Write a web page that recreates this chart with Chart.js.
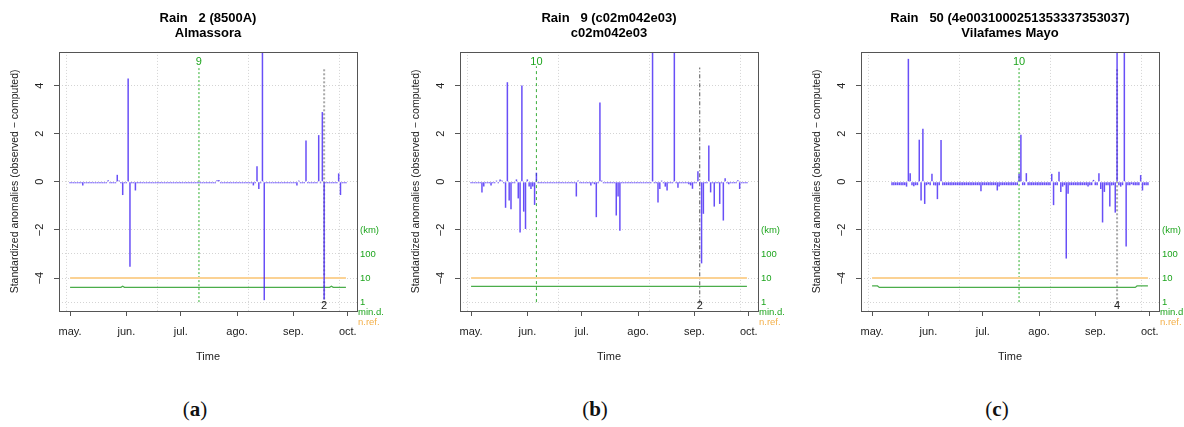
<!DOCTYPE html>
<html>
<head>
<meta charset="utf-8">
<script src="https://cdn.jsdelivr.net/npm/chart.js@4.4.1/dist/chart.umd.min.js"></script>
<style>
  html, body { margin: 0; padding: 0; background: #fff; width: 1184px; height: 427px; overflow: hidden; }
  .panel { position: absolute; top: 0; }
  .cap { position: absolute; top: 397px; width: 60px; text-align: center; font-family: "Liberation Serif", "DejaVu Serif", serif; font-size: 21px; color: #111; }
</style>
</head>
<body>
<div class="panel" style="left:0px"><canvas id="chartA" width="395" height="380"></canvas></div>
<div class="panel" style="left:401px"><canvas id="chartB" width="395" height="380"></canvas></div>
<div class="panel" style="left:802px"><canvas id="chartC" width="395" height="380"></canvas></div>
<div class="cap" style="left:165px">(<b>a</b>)</div>
<div class="cap" style="left:565px">(<b>b</b>)</div>
<div class="cap" style="left:967px">(<b>c</b>)</div>
<script>
// x axis = days since 1 May
const monthDays = [0, 31, 61, 92, 123, 153];
const monthLabels = ["may.", "jun.", "jul.", "ago.", "sep.", "oct."];
const gridDays = [-1.8, 48.3, 98.2, 148.3];

const yTicks = [4, 2, 0, -2, -4];
const yTickLabels = ["4", "2", "0", "\u22122", "\u22124"];
const kmTicks = [-2, -3, -4, -5];
const kmLabels = ["(km)", "100", "10", "1"];

const nrefDays = [0, 152];
const nrefValues = [10, 10];

// (a) Rain 2 (8500A) Almassora
const anomA = [
  -0.06, -0.06, -0.06, -0.06, -0.06, -0.06, -0.06, -0.15, -0.06, -0.06,
  -0.06, -0.06, -0.06, -0.06, -0.06, -0.06, -0.06, -0.06, -0.06, -0.06,
  -0.06, 0.06, -0.06, -0.06, -0.06, -0.06, 0.29, 0.05, -0.06, -0.55,
  -0.06, -0.06, 4.29, -3.53, -0.06, -0.06, -0.36, -0.06, -0.06, -0.06,
  -0.06, -0.06, -0.06, -0.06, -0.06, -0.06, -0.06, -0.06, -0.06, -0.06,
  -0.06, -0.06, -0.06, -0.06, -0.06, -0.06, -0.06, -0.06, -0.06, -0.06,
  -0.06, -0.06, -0.06, -0.06, -0.06, -0.06, -0.06, -0.06, -0.06, -0.06,
  -0.06, -0.06, -0.06, -0.06, -0.06, -0.06, -0.06, -0.06, -0.06, -0.06,
  -0.06, 0.07, 0.08, -0.06, -0.06, -0.06, -0.06, -0.06, -0.06, -0.06,
  -0.06, -0.06, -0.06, -0.06, -0.06, -0.06, -0.06, -0.06, -0.06, -0.06,
  -0.06, -0.15, -0.06, 0.65, -0.30, -0.06, 6.00, -4.92, -0.06, -0.06,
  -0.06, -0.06, -0.06, -0.06, -0.06, -0.06, -0.06, -0.06, -0.06, -0.06,
  -0.06, -0.06, -0.06, -0.06, -0.06, -0.15, 0.05, -0.06, -0.06, -0.06,
  1.72, -0.06, -0.06, -0.06, -0.06, -0.06, -0.06, 1.94, -0.06, 2.90,
  -4.89, -0.06, -0.06, -0.06, -0.06, -0.06, -0.06, -0.06, 0.35, -0.55,
  -0.06, -0.06, -0.06
];
const minDaysA = [0, 28, 29, 30, 143, 144, 145, 152];
const minKmA = [4.1, 4.1, 4.6, 4.1, 4.1, 4.6, 4.1, 4.1];

// (b) Rain 9 (c02m042e03)
const anomB = [
  -0.06, -0.06, -0.06, -0.06, -0.06, -0.06, -0.44, -0.20, -0.06, -0.06,
  -0.06, -0.15, -0.06, -0.06, 0.05, -0.06, 0.10, 0.05, -0.06, -1.08,
  4.14, -0.78, -1.14, -0.06, -0.06, 0.10, -0.69, -2.11, 4.00, -1.24,
  -1.96, 0.10, -0.20, -0.30, -0.20, -0.96, 0.38, -0.06, -0.06, -0.06,
  -0.06, -0.06, -0.06, -0.06, -0.06, -0.06, -0.06, -0.06, -0.06, -0.06,
  -0.06, -0.06, -0.06, -0.06, -0.06, -0.06, -0.06, -0.06, -0.61, 0.05,
  -0.06, -0.06, -0.06, -0.06, -0.06, -0.06, -0.15, -0.06, -0.10, -1.47,
  -0.06, 3.30, 0.05, -0.06, -0.06, -0.06, -0.06, -0.06, -0.06, -0.06,
  -1.40, -0.61, -2.03, -0.06, -0.06, -0.06, -0.06, -0.06, -0.06, -0.06,
  -0.06, -0.06, -0.06, -0.06, -0.06, -0.06, -0.06, -0.06, -0.06, -0.06,
  6.00, -0.06, -0.06, -0.86, -0.30, 0.05, -0.06, -0.20, -0.36, -0.06,
  -0.06, -0.06, 6.00, -0.06, -0.25, -0.06, -0.06, -0.06, -0.06, -0.06,
  -0.10, -0.15, -0.29, -0.06, -0.06, 0.44, -0.06, -3.39, -1.33, -0.06,
  -0.06, 1.51, -0.44, -0.06, -1.03, -0.06, -0.06, -0.92, -0.06, -1.61,
  0.15, -0.06, -0.10, -0.06, -0.06, -0.06, -0.06, 0.07, -0.30, -0.06,
  -0.06, -0.06, -0.06
];
const minDaysB = [0, 152];
const minKmB = [4.5, 4.5];

// (c) Rain 50 Vilafames Mayo
const anomC = [
  null, null, null, null, null, null, null, null, null, null,
  null, -0.14, -0.14, -0.14, -0.14, -0.14, -0.14, -0.14, -0.14, -0.20,
  5.11, 0.36, -0.14, -0.18, -0.14, -0.14, 1.75, -0.78, 2.21, -0.92,
  -0.14, -0.10, -0.14, 0.33, -0.14, -0.15, -0.72, -0.14, 1.74, -0.14,
  -0.14, -0.14, -0.14, -0.14, -0.14, -0.14, -0.14, -0.14, -0.14, -0.14,
  -0.14, -0.14, -0.14, -0.14, -0.14, -0.14, -0.14, -0.14, -0.14, -0.14,
  -0.39, -0.14, -0.14, -0.14, -0.14, -0.14, -0.14, -0.14, -0.14, -0.36,
  -0.20, -0.14, -0.14, -0.14, -0.14, -0.14, -0.14, -0.14, -0.14, -0.14,
  -0.14, 0.33, 1.96, -0.14, -0.14, 0.36, -0.14, -0.14, -0.14, -0.14,
  -0.14, -0.14, -0.14, -0.14, -0.14, -0.14, -0.14, -0.14, -0.14, 0.33,
  -0.97, -0.14, -0.14, 0.42, -0.42, -0.20, -0.14, -3.19, -0.50, -0.14,
  -0.14, -0.14, -0.14, -0.14, -0.14, -0.14, -0.14, -0.14, -0.14, -0.20,
  -0.14, -0.14, 0.08, -0.14, -0.14, 0.36, -0.30, -1.69, -0.42, -0.14,
  -0.14, -1.03, -0.15, -0.14, -1.28, 6.00, -0.14, -0.20, -0.14, 6.00,
  -2.69, -0.14, -0.14, -0.10, -0.14, -0.14, -0.14, -0.14, 0.28, -0.36,
  -0.14, -0.14, -0.14
];
const minDaysC = [0, 3, 4, 145, 146, 152];
const minKmC = [4.7, 4.7, 4.1, 4.1, 4.7, 4.7];

const FONT = '"Liberation Sans", Arial, Helvetica, sans-serif';
const GREEN_TEXT = "#1ea51e";
const ORANGE_TEXT = "#f4b04a";

Chart.defaults.font.family = FONT;
Chart.defaults.color = "#222";

function dayPoints(values) {
  return values.map((v, i) => ({ x: i, y: v }));
}

// distances (km) plotted on the log scale under the anomalies: 1 km -> -5
function kmPoints(days, km) {
  return days.map((d, i) => ({ x: d, y: Math.log10(km[i]) - 5 }));
}

const panelMarks = {
  id: "panelMarks",
  afterDatasetsDraw(chart, args, opts) {
    const { ctx, chartArea: area } = chart;
    const x = chart.scales.x;
    const y = chart.scales.y;

    ctx.save();
    ctx.strokeStyle = "#555";
    ctx.lineWidth = 1;
    ctx.strokeRect(Math.round(area.left) + 0.5, Math.round(area.top) + 0.5,
      Math.round(area.right - area.left), Math.round(area.bottom - area.top));

    ctx.textAlign = "center";
    ctx.textBaseline = "middle";
    ctx.font = "11px " + FONT;
    ctx.fillStyle = GREEN_TEXT;
    ctx.fillText(opts.refLabel, x.getPixelForValue(opts.refDay), y.getPixelForValue(5.0));
    ctx.fillStyle = "#222";
    ctx.fillText(opts.breakLabel, x.getPixelForValue(opts.breakDay), y.getPixelForValue(-5.18));

    ctx.textAlign = "left";
    ctx.font = "9.5px " + FONT;
    ctx.fillStyle = GREEN_TEXT;
    ctx.fillText("min.d.", area.right + 1, area.bottom + 1.5);
    ctx.fillStyle = ORANGE_TEXT;
    ctx.fillText("n.ref.", area.right + 1, area.bottom + 11);
    ctx.restore();
  }
};

function makePanel(canvasId, titleLines, anomalies, minDays, minKm, refDay, refLabel, breakDay, breakLabel, style) {
  new Chart(document.getElementById(canvasId), {
    type: "bar",
    data: {
      datasets: [
        {
          type: "bar",
          data: dayPoints(anomalies),
          backgroundColor: "rgba(62, 30, 245, 0.78)",
          borderWidth: 0,
          barThickness: 1.5,
          inflateAmount: 0,
          order: 0
        },
        {
          type: "line",
          data: kmPoints(nrefDays, nrefValues),
          borderColor: "#fbd294",
          borderWidth: 2,
          pointRadius: 0,
          order: 2
        },
        {
          type: "line",
          data: kmPoints(minDays, minKm),
          borderColor: "#4aad4a",
          borderWidth: 1.2,
          pointRadius: 0,
          order: 1
        },
        {
          type: "line",
          data: [{ x: refDay, y: -5.0 }, { x: refDay, y: 4.8 }],
          borderColor: style.refColor,
          borderWidth: style.refWidth,
          borderDash: style.refDash,
          pointRadius: 0,
          order: 3
        },
        {
          type: "line",
          data: [{ x: breakDay, y: -5.05 }, { x: breakDay, y: 4.75 }],
          borderColor: style.breakColor,
          borderWidth: style.breakWidth,
          borderDash: style.breakDash,
          pointRadius: 0,
          order: 3
        }
      ]
    },
    options: {
      responsive: false,
      animation: false,
      devicePixelRatio: 1,
      layout: { padding: 0 },
      plugins: {
        legend: { display: false },
        tooltip: { enabled: false },
        title: {
          display: true,
          fullSize: false,
          text: titleLines,
          color: "#000",
          font: { size: 13, weight: "bold", lineHeight: 1.15 },
          padding: { top: 11, bottom: 11 }
        },
        panelMarks: { refDay, refLabel, breakDay, breakLabel }
      },
      scales: {
        x: {
          type: "linear",
          min: -6.1,
          max: 158.1,
          offset: false,
          afterBuildTicks: axis => { axis.ticks = monthDays.map(v => ({ value: v })); },
          afterFit: axis => { axis.height = 69; },
          ticks: {
            padding: 9,
            maxRotation: 0,
            font: { size: 11 },
            color: "#222",
            callback: (value, index) => monthLabels[index]
          },
          grid: { offset: false, drawOnChartArea: false, color: "#555", tickColor: "#555", tickLength: 5 },
          border: { display: false },
          title: { display: true, text: "Time", font: { size: 11 }, color: "#222", padding: { top: 0, bottom: 16.4 } }
        },
        xg: {
          type: "linear",
          position: "bottom",
          min: -6.1,
          max: 158.1,
          offset: false,
          afterBuildTicks: axis => { axis.ticks = gridDays.map(v => ({ value: v })); },
          afterFit: axis => { axis.height = 0; },
          ticks: { display: false },
          grid: { offset: false, color: "#d4d4d4", drawTicks: false },
          border: { display: false, dash: [1, 2] }
        },
        y: {
          type: "linear",
          position: "left",
          min: -5.37,
          max: 5.40,
          afterBuildTicks: axis => { axis.ticks = yTicks.map(v => ({ value: v })); },
          afterFit: axis => { axis.width = 59; },
          ticks: {
            minRotation: 90,
            maxRotation: 90,
            crossAlign: "center",
            padding: 8,
            font: { size: 11 },
            color: "#222",
            callback: (value, index) => yTickLabels[index]
          },
          grid: { color: "#d4d4d4", tickColor: "#555", tickLength: 5 },
          border: { display: false, dash: [1, 2] },
          title: {
            display: true,
            text: "Standardized anomalies (observed \u2212 computed)",
            font: { size: 10.5 },
            color: "#222",
            padding: { top: 8.6, bottom: 0 }
          }
        },
        y2: {
          type: "linear",
          position: "right",
          min: -5.37,
          max: 5.40,
          afterBuildTicks: axis => { axis.ticks = kmTicks.map(v => ({ value: v })); },
          afterFit: axis => { axis.width = 38; },
          ticks: {
            padding: 3,
            font: { size: 9.5 },
            color: GREEN_TEXT,
            callback: (value, index) => kmLabels[index]
          },
          grid: { color: "#d4d4d4", drawTicks: false },
          border: { display: false, dash: [1, 2] }
        }
      }
    },
    plugins: [panelMarks]
  });
}

const dottedStyle = {
  refColor: "rgba(110, 200, 110, 0.9)", refWidth: 1.6, refDash: [2, 2],
  breakColor: "#a8a8a8", breakWidth: 2, breakDash: [2, 2]
};
const dashedStyle = {
  refColor: "#3cae3c", refWidth: 1, refDash: [3, 3],
  breakColor: "#555", breakWidth: 1, breakDash: [4, 2, 1, 2]
};

makePanel("chartA", ["Rain   2 (8500A)", "Almassora"], anomA, minDaysA, minKmA, 71, "9", 140, "2", dottedStyle);
makePanel("chartB", ["Rain   9 (c02m042e03)", "c02m042e03"], anomB, minDaysB, minKmB, 36, "10", 126, "2", dashedStyle);
makePanel("chartC", ["Rain   50 (4e0031000251353337353037)", "Vilafames Mayo"], anomC, minDaysC, minKmC, 81, "10", 135, "4", dottedStyle);
</script>
</body>
</html>
